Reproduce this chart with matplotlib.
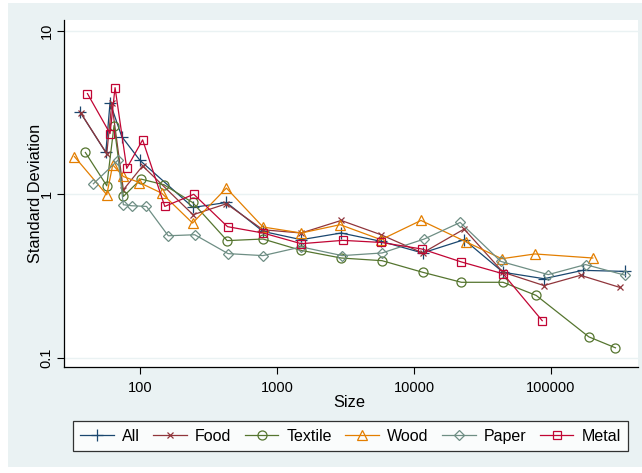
import matplotlib.pyplot as plt
from matplotlib.patches import Rectangle

plt.rcParams['font.family'] = ['Liberation Sans', 'DejaVu Sans']

# size classes and standard deviations per sector
all_x = [36.4, 56.0, 60.1, 73.2, 99.5, 243, 426, 788, 1501, 2937, 5745,
         11550, 23260, 44770, 89060, 171400, 346800]
all_y = [3.17, 1.80, 3.63, 2.25, 1.61, 0.831, 0.891, 0.593, 0.528, 0.580,
         0.516, 0.438, 0.528, 0.334, 0.305, 0.343, 0.338]

food_x = [36.8, 56.9, 61.9, 75.2, 104, 243, 426, 788, 1501, 2937, 5745,
          11550, 23260, 44770, 89060, 164900, 318900]
food_y = [3.13, 1.77, 3.60, 1.065, 1.49, 0.750, 0.875, 0.607, 0.580, 0.692,
          0.566, 0.438, 0.613, 0.334, 0.277, 0.320, 0.270]

textile_x = [39.7, 56.9, 64.3, 75.2, 101.2, 149, 241, 431, 788, 1501, 2937,
             5846, 11550, 22230, 44770, 78270, 189600, 296700]
textile_y = [1.80, 1.127, 2.63, 0.970, 1.238, 1.143, 0.891, 0.521, 0.533,
             0.454, 0.408, 0.393, 0.334, 0.290, 0.290, 0.241, 0.1346, 0.1154]

wood_x = [33.0, 56.9, 62.9, 75.2, 98.3, 143, 241, 426, 788, 1501, 2888,
          5745, 11250, 24180, 43800, 76560, 202700]
wood_y = [1.70, 0.993, 1.513, 1.284, 1.180, 1.017, 0.667, 1.091, 0.631,
          0.580, 0.652, 0.528, 0.692, 0.511, 0.404, 0.432, 0.408]

paper_x = [45.4, 69.1, 75.2, 86.6, 111, 160, 250, 438, 788, 1501, 2987,
           5846, 11890, 21760, 43080, 95730, 179300, 350900]
paper_y = [1.159, 1.623, 0.863, 0.851, 0.843, 0.558, 0.566, 0.434, 0.422,
           0.477, 0.422, 0.438, 0.533, 0.673, 0.389, 0.323, 0.372, 0.320]

metal_x = [41.1, 60.1, 65.4, 79.6, 104, 151, 246, 434, 788, 1501, 3019,
           5745, 11430, 22230, 44770, 86520]
metal_y = [4.12, 2.35, 4.48, 1.44, 2.15, 0.843, 1.00, 0.634, 0.580, 0.499,
           0.523, 0.508, 0.463, 0.386, 0.327, 0.169]

series = [
    ("All", all_x, all_y, "#1A476F", "+", 8, "full"),
    ("Food", food_x, food_y, "#90353B", "x", 4.5, "full"),
    ("Textile", textile_x, textile_y, "#55752F", "o", 6.5, "none"),
    ("Wood", wood_x, wood_y, "#E37E00", "^", 7, "none"),
    ("Paper", paper_x, paper_y, "#6E8E84", "D", 5.2, "none"),
    ("Metal", metal_x, metal_y, "#C10534", "s", 5.6, "none"),
]

bg = "#EAF2F3"
fig = plt.figure(figsize=(6.42, 4.73), dpi=100)
fig.patch.set_facecolor("white")
fig.patches.append(Rectangle((8 / 642, 6 / 473), 634 / 642, 464 / 473,
                             transform=fig.transFigure, facecolor=bg,
                             edgecolor="none", zorder=-10))

ax = fig.add_axes([64 / 642, 1 - 367 / 473, (637.5 - 64) / 642, (367 - 20) / 473])
ax.set_facecolor("white")

for name, xs, ys, col, mk, ms, fill in series:
    ax.plot(xs, ys, color=col, lw=0.9, marker=mk, ms=ms, mew=0.9,
            fillstyle=fill, label=name)

ax.set_xscale("log")
ax.set_yscale("log")
ax.set_xlim(27.7, 430000)
ax.set_ylim(0.0881, 11.6)

ax.set_xticks([100, 1000, 10000, 100000])
ax.set_xticklabels(["100", "1000", "10000", "100000"])
ax.set_yticks([0.1, 1, 10])
ax.set_yticklabels(["0.1", "1", "10"], rotation=90, va="center")
ax.minorticks_off()
ax.tick_params(axis="both", labelsize=10.5, length=5, width=0.8, color="black")
ax.tick_params(axis="x", pad=5)
ax.tick_params(axis="y", pad=2.5)

ax.grid(True, axis="y", color=bg, lw=1)
ax.set_axisbelow(True)
for side in ["top", "right"]:
    ax.spines[side].set_visible(False)
for side in ["left", "bottom"]:
    ax.spines[side].set_linewidth(0.9)

ax.set_xlabel("Size", fontsize=11.8, va="center")
ax.xaxis.set_label_coords(0.498, -0.1023)
ax.set_ylabel("Standard Deviation", fontsize=11.8, va="center")
ax.yaxis.set_label_coords(-0.0497, 0.5)

leg = fig.legend(loc="center", bbox_to_anchor=(350.5 / 642, 1 - 436 / 473),
                 ncol=6, fontsize=11.5, frameon=True, fancybox=False,
                 edgecolor="black", handlelength=2.1, columnspacing=0.85,
                 handletextpad=0.5, borderpad=0.45, borderaxespad=0)
leg.get_frame().set_linewidth(0.9)

fig.savefig("out.png", dpi=100, facecolor=fig.get_facecolor())
